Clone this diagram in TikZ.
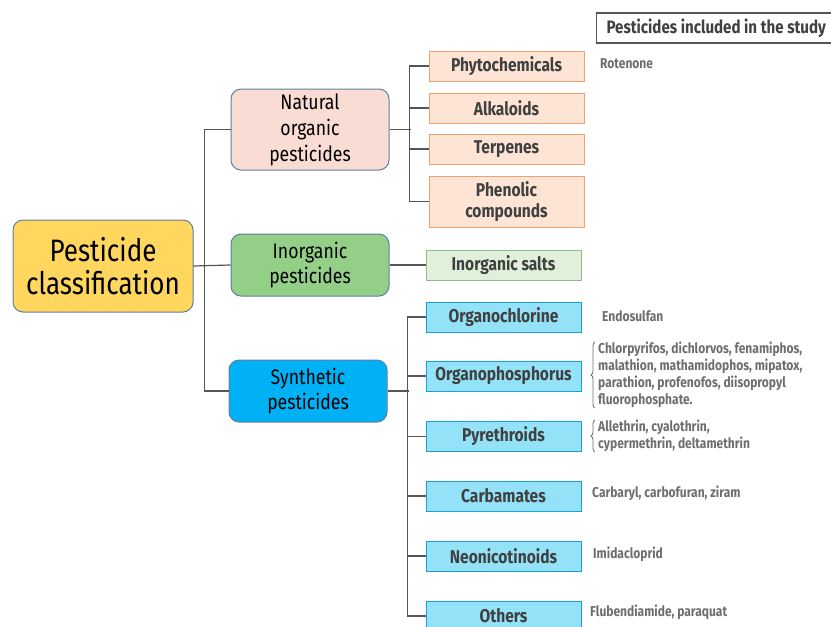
\documentclass[tikz,border=0pt]{standalone}
\usepackage{fontspec}
\setmainfont[FakeStretch=0.84]{Fira Sans}
\usetikzlibrary{decorations.pathreplacing}
\definecolor{rootfill}{HTML}{FFD75E}
\definecolor{natfill}{HTML}{F9DCD3}
\definecolor{inofill}{HTML}{93CF87}
\definecolor{synfill}{HTML}{00B2F5}
\definecolor{topborder}{HTML}{5F7F9F}
\definecolor{peachfill}{HTML}{FDE4D5}
\definecolor{peachborder}{HTML}{F0A070}
\definecolor{saltfill}{HTML}{E0F0DA}
\definecolor{saltborder}{HTML}{8FB98A}
\definecolor{cyanfill}{HTML}{93E2F7}
\definecolor{cyanborder}{HTML}{17A2D3}
\definecolor{subtext}{HTML}{404040}
\definecolor{listgray}{HTML}{6E6E6E}
\definecolor{linegray}{HTML}{555555}
\begin{document}
\begin{tikzpicture}[x=1pt,y=-1pt,
  topbox/.style={draw=topborder, line width=1pt, rounded corners=10pt, inner sep=0pt, align=center},
  subbox/.style={draw, line width=1pt, inner sep=0pt, minimum width=155pt, minimum height=30pt, align=center, text=subtext, font=\fontsize{18.5}{21}\selectfont\bfseries},
  listtext/.style={anchor=west, align=left, inner sep=0pt, text=listgray, font=\fontsize{14.3}{17}\selectfont\bfseries},
  link/.style={draw=linegray, line width=1.2pt},
  bracelink/.style={draw=listgray, line width=0.8pt, decorate, decoration={brace, amplitude=4pt}}]
\useasboundingbox (0,0) rectangle (831,627);
\clip (0,0) rectangle (831,627);
% main boxes
\node[topbox, fill=rootfill, minimum width=180pt, minimum height=92pt, font=\fontsize{31}{33}\selectfont] (root) at (103,266) {Pesticide\\classification};
\node[topbox, fill=natfill, minimum width=158pt, minimum height=81pt, font=\fontsize{21}{26}\selectfont] (nat) at (310,129.5) {Natural\\organic\\pesticides};
\node[topbox, fill=inofill, minimum width=158pt, minimum height=62pt, font=\fontsize{21}{25}\selectfont] (inorg) at (310,265) {Inorganic\\pesticides};
\node[topbox, fill=synfill, minimum width=158pt, minimum height=62pt, font=\fontsize{21}{25}\selectfont] (syn) at (308,391) {Synthetic\\pesticides};
% natural
\node[subbox, draw=peachborder, fill=peachfill] (phyto) at (506.5,66) {Phytochemicals};
\node[subbox, draw=peachborder, fill=peachfill] (alk) at (506.5,108) {Alkaloids};
\node[subbox, draw=peachborder, fill=peachfill] (terp) at (506.5,149) {Terpenes};
\node[subbox, draw=peachborder, fill=peachfill, minimum height=51pt] (phen) at (506.5,201.5) {Phenolic\\compounds};
% inorganic
\node[subbox, draw=saltborder, fill=saltfill] (salts) at (503.5,265) {Inorganic salts};
% synthetic
\node[subbox, draw=cyanborder, fill=cyanfill] (ochl) at (503.5,317) {Organochlorine};
\node[subbox, draw=cyanborder, fill=cyanfill] (ophos) at (503.5,376) {Organophosphorus};
\node[subbox, draw=cyanborder, fill=cyanfill] (pyr) at (503.5,436.5) {Pyrethroids};
\node[subbox, draw=cyanborder, fill=cyanfill] (carb) at (503.5,496) {Carbamates};
\node[subbox, draw=cyanborder, fill=cyanfill] (neo) at (503.5,556) {Neonicotinoids};
\node[subbox, draw=cyanborder, fill=cyanfill] (oth) at (503.5,616) {Others};
% study list
\node[draw=linegray, line width=1.2pt, fill=white, anchor=west, inner xsep=10pt, minimum height=30pt, text=subtext, font=\fontsize{18}{20}\selectfont\bfseries] (head) at (596,28) {Pesticides included in the study};
\node[listtext] (roten) at (600,64) {Rotenone};
\node[listtext] (endo) at (602,316) {Endosulfan};
\node[listtext] (oplist) at (598,375) {Chlorpyrifos, dichlorvos, fenamiphos,\\malathion, mathamidophos, mipatox,\\parathion, profenofos, diisopropyl\\fluorophosphate.};
\node[listtext] (pylist) at (598,436) {Allethrin, cyalothrin,\\cypermethrin, deltamethrin};
\node[listtext] (carlist) at (592,493) {Carbaryl, carbofuran, ziram};
\node[listtext] (imid) at (593,554) {Imidacloprid};
\node[listtext] (flub) at (590,612) {Flubendiamide, paraquat};
\draw[bracelink] ([xshift=-3pt]oplist.south west) -- ([xshift=-3pt]oplist.north west);
\draw[bracelink] ([xshift=-3pt]pylist.south west) -- ([xshift=-3pt]pylist.north west);
% connectors
\draw[link] (root.east) -- (inorg.west);
\draw[link] (nat.west) -- ++(-26,0) |- (syn.west);
\draw[link] (nat.east) -- ++(21,0);
\draw[link] (phyto.west) -- ++(-19,0) |- (phen.west);
\draw[link] (alk.west) -- ++(-19,0);
\draw[link] (terp.west) -- ++(-19,0);
\draw[link] (inorg.east) -- (salts.west);
\draw[link] (syn.east) -- ++(21,0);
\draw[link] (ochl.west) -- ++(-18,0) |- (oth.west);
\draw[link] (ophos.west) -- ++(-18,0);
\draw[link] (pyr.west) -- ++(-18,0);
\draw[link] (carb.west) -- ++(-18,0);
\draw[link] (neo.west) -- ++(-18,0);
\end{tikzpicture}
\end{document}
